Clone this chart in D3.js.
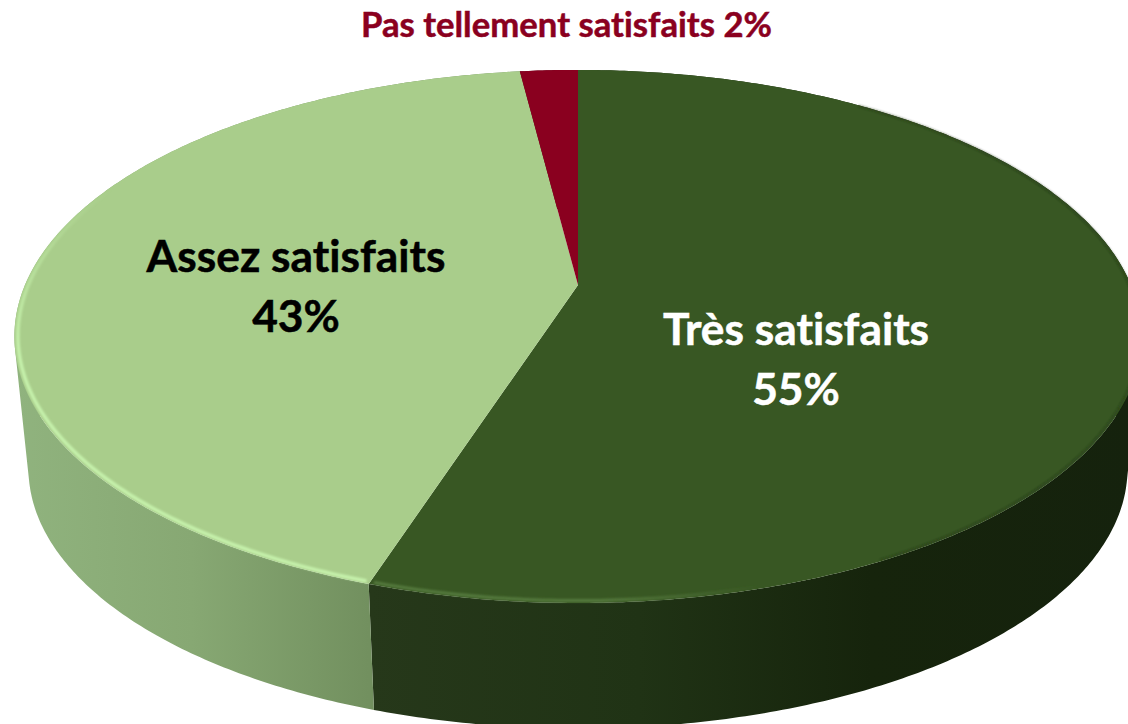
<!DOCTYPE html>
<html>
<head>
<meta charset="utf-8">
<script src="https://cdn.jsdelivr.net/npm/d3@7"></script>
<style>
    html, body { margin: 0; padding: 0; background: #fff; overflow: hidden; }
    svg { display: block; }
    text { font-family: Lato, "Open Sans", sans-serif; font-weight: 700; font-variant-ligatures: none; }
</style>
</head>
<body>
<div id="chart"></div>
<script>
const categories = ["Très satisfaits", "Pas tellement satisfaits", "Assez satisfaits"];
// order is clockwise from 12 o'clock: dark green, then light green, then red
const values = [55, 43, 2];
const slice_names = [categories[0], categories[2], categories[1]];
const top_colors = ["#385723", "#a9cd8b", "#8a001f"];
const side_stops = [
    [["0%", "#26381a"], ["35%", "#203315"], ["65%", "#16240c"], ["100%", "#15220d"]],
    [["0%", "#90b37e"], ["50%", "#87a873"], ["100%", "#72905f"]],
    [["0%", "#5c0015"], ["100%", "#5c0015"]]
];

const width = 1128, height = 724;

// perspective of the tilted disc, k is the foreshortening towards the back
const k = 0.193;
const xScale = d3.scaleLinear().domain([-1, 1]).range([578 - 553, 578 + 553]);
const yTop = d3.scaleLinear().domain([-1, 1]).range([285 - 256.6, 285 + 256.6]);
const depth = 133.5, shrink = 0.975;

function project(angle, level, r) {
    r = r === undefined ? 1 : r;
    const u = Math.sin(angle) * r, v = -Math.cos(angle) * r;
    const w = 1 - k * v;
    let x = xScale(u / w), y = yTop(v / w);
    if (level === 1) {
        x = 578 + (x - 578) * shrink;
        y = 285 + depth + (y - 285) * shrink;
    }
    return [x, y];
}

function angles(a0, a1) {
    const n = Math.max(2, Math.ceil((a1 - a0) / 0.01));
    return d3.range(n + 1).map(function (i) { return a0 + (a1 - a0) * i / n; });
}

const line = d3.line();

const pie = d3.pie().sort(null).value(function (d) { return d; });
const arcs = pie(values);

const svg = d3.select("#chart")
    .append("svg")
    .attr("width", width)
    .attr("height", height);

const defs = svg.append("defs");

side_stops.forEach(function (stops, i) {
    const xs = angles(arcs[i].startAngle, arcs[i].endAngle).map(function (a) { return project(a, 0)[0]; });
    const grad = defs.append("linearGradient")
        .attr("id", "side-" + i)
        .attr("gradientUnits", "userSpaceOnUse")
        .attr("x1", i === 1 ? d3.min(xs) : project(arcs[i].endAngle, 0)[0])
        .attr("x2", i === 1 ? project(arcs[i].startAngle, 0)[0] : d3.max(xs))
        .attr("y1", 0)
        .attr("y2", 0);
    grad.selectAll("stop")
        .data(stops)
        .enter()
        .append("stop")
        .attr("offset", function (d) { return d[0]; })
        .attr("stop-color", function (d) { return d[1]; });
});

const rimFade = defs.append("linearGradient")
    .attr("id", "rim-dark")
    .attr("gradientUnits", "userSpaceOnUse")
    .attr("x1", 372).attr("x2", 760).attr("y1", 0).attr("y2", 0);
rimFade.append("stop").attr("offset", "0%").attr("stop-color", "#557a3e");
rimFade.append("stop").attr("offset", "60%").attr("stop-color", "#557a3e");
rimFade.append("stop").attr("offset", "100%").attr("stop-color", "#557a3e").attr("stop-opacity", 0);

// light rim dies out going up the left side
const rimLight = defs.append("linearGradient")
    .attr("id", "rim-light")
    .attr("gradientUnits", "userSpaceOnUse")
    .attr("x1", 0).attr("x2", 0).attr("y1", 190).attr("y2", 350);
rimLight.append("stop").attr("offset", "0%").attr("stop-color", "#c6f2ac").attr("stop-opacity", 0);
rimLight.append("stop").attr("offset", "100%").attr("stop-color", "#c6f2ac");

defs.append("filter")
    .attr("id", "soft")
    .attr("x", "-5%").attr("y", "-5%").attr("width", "110%").attr("height", "110%")
    .append("feGaussianBlur")
    .attr("stdDeviation", 0.9);

// side wall, one path made of small quads all wound the same way so no seams show
function sidePath(d) {
    const as = angles(d.startAngle, d.endAngle);
    let path = "";
    for (let i = 0; i < as.length - 1; i++) {
        let q = [project(as[i], 0), project(as[i + 1], 0), project(as[i + 1], 1), project(as[i], 1)];
        if (d3.polygonArea(q) < 0) { q = q.reverse(); }
        path += line(q) + "Z";
    }
    return path;
}

svg.append("g").selectAll("path")
    .data(arcs)
    .enter()
    .append("path")
    .attr("class", "side")
    .attr("d", sidePath)
    .attr("fill", function (d, i) { return "url(#side-" + i + ")"; });

// top of the pie
function topPath(d) {
    const pts = angles(d.startAngle, d.endAngle).map(function (a) { return project(a, 0); });
    pts.push(project(0, 0, 0));
    return line(pts) + "Z";
}

svg.append("g").selectAll("path")
    .data(arcs)
    .enter()
    .append("path")
    .attr("class", "top")
    .attr("d", topPath)
    .attr("fill", function (d, i) { return top_colors[i]; });

// bevel along the front edge
function rimPath(d, a0, a1) {
    return line(angles(a0, a1).map(function (a) { return project(a, 0, 0.994); }));
}

const rims = svg.append("g").attr("filter", "url(#soft)").attr("fill", "none");

rims.append("path")
    .attr("d", rimPath(arcs[1], arcs[1].startAngle + 0.006, 1.68 * Math.PI))
    .attr("stroke", "url(#rim-light)")
    .attr("stroke-width", 3.5);

rims.append("path")
    .attr("d", rimPath(arcs[0], Math.PI * 0.85, arcs[0].endAngle - 0.006))
    .attr("stroke", "url(#rim-dark)")
    .attr("stroke-width", 3);

// dark soft edge on the right of the dark slice
rims.append("path")
    .attr("d", line(angles(0.2 * Math.PI, 0.85 * Math.PI).map(function (a) { return project(a, 0, 0.997); })))
    .attr("stroke", "#1d2f12")
    .attr("stroke-width", 2)
    .attr("stroke-opacity", 0.5);

// labels
const labels = [
    { lines: [slice_names[0], values[0] + "%"], x: 796, y: [345, 405], color: "#ffffff", size: 44.3 },
    { lines: [slice_names[1], values[1] + "%"], x: 296, y: [272, 332], color: "#000000", size: 44.3 },
    { lines: [slice_names[2] + " " + values[2] + "%"], x: 566.5, y: [37], color: "#8a001f", size: 34.7 }
];

labels.forEach(function (l) {
    l.lines.forEach(function (t, i) {
        svg.append("text")
            .attr("x", l.x)
            .attr("y", l.y[i])
            .attr("text-anchor", "middle")
            .attr("fill", l.color)
            .attr("stroke", l.color)
            .attr("stroke-width", 0.5)
            .style("font-size", l.size + "px")
            .text(t);
    });
});
</script>
</body>
</html>
